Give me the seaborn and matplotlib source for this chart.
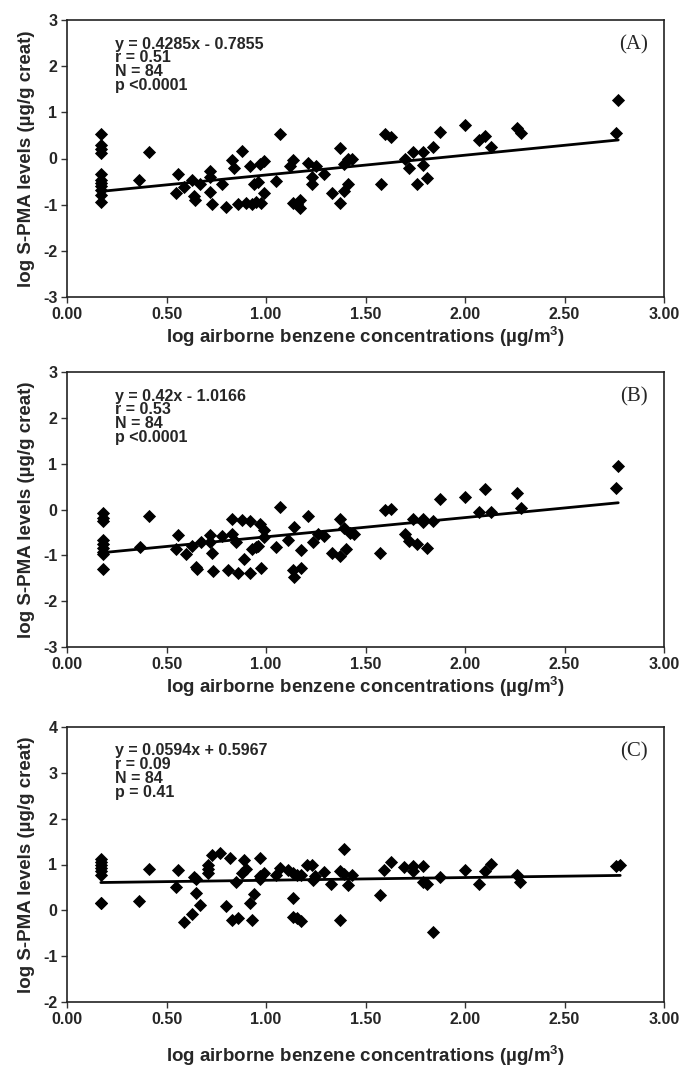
import matplotlib
matplotlib.use("Agg")
import matplotlib.pyplot as plt
import seaborn as sns
import numpy as np
import pandas as pd

# ---------------- data ----------------
x_A = [0.17, 0.17, 0.17, 0.17, 0.17, 0.17, 0.17, 0.17, 0.17, 0.17, 0.17,
       0.41, 0.36, 0.56, 0.59, 0.55, 0.63, 0.64, 0.67, 0.72, 0.72, 0.72, 0.78,
       0.83, 0.84, 0.88, 0.92, 0.97, 0.99, 0.94, 0.96, 0.99, 1.05, 1.07, 1.12,
       1.135, 1.21, 1.23, 1.23, 1.25, 1.29, 1.33, 1.37, 1.39, 1.41, 1.43, 1.41,
       1.39, 1.58, 1.60, 1.63, 1.70, 1.72, 1.74, 1.79, 1.79, 1.76, 1.81, 1.84,
       1.875, 2.00, 2.07, 2.10, 2.13, 2.26, 2.28, 2.77, 2.76,
       0.645, 0.73, 0.80, 0.86, 0.90, 0.93, 0.95, 0.975, 1.135, 1.155, 1.17,
       1.17, 1.37]
y_A = [0.52, 0.30, 0.20, 0.11, -0.33, -0.46, -0.52, -0.60, -0.68, -0.80, -0.95,
       0.13, -0.46, -0.33, -0.61, -0.74, -0.46, -0.81, -0.56, -0.26, -0.39, -0.72,
       -0.55, -0.04, -0.21, 0.16, -0.16, -0.11, -0.05, -0.55, -0.51, -0.74, -0.49,
       0.54, -0.16, -0.04, -0.09, -0.39, -0.56, -0.16, -0.33, -0.74, 0.23, -0.11,
       -0.02, 0.0, -0.56, -0.71, -0.55, 0.53, 0.46, 0.0, -0.21, 0.14, 0.14, -0.14,
       -0.55, -0.42, 0.25, 0.58, 0.73, 0.40, 0.48, 0.25, 0.67, 0.56, 1.27, 0.55,
       -0.90, -0.99, -1.06, -0.99, -0.97, -0.99, -0.95, -0.97, -0.97, -0.99,
       -0.90, -1.08, -0.97]

x_B = [0.18, 0.18, 0.18, 0.18, 0.18, 0.18, 0.18, 0.18, 0.18,
       0.41, 0.56, 0.72, 0.78, 0.83, 0.83, 0.88, 0.92, 0.97, 0.99, 1.07, 1.14,
       1.21, 1.26, 1.37, 1.39, 1.42, 1.60, 1.63, 1.70, 1.74, 1.79, 1.79, 1.84,
       1.875, 2.00, 2.07, 2.10, 2.13, 2.26, 2.28, 2.76, 2.77,
       0.365, 0.55, 0.60, 0.63, 0.65, 0.655, 0.675, 0.72, 0.73, 0.735, 0.81,
       0.85, 0.86, 0.89, 0.92, 0.93, 0.95, 0.96, 0.975, 0.99, 1.05, 1.11, 1.135,
       1.14, 1.175, 1.175, 1.235, 1.29, 1.33, 1.37, 1.40, 1.44, 1.575, 1.72,
       1.76, 1.81]
y_B = [-0.07, -0.18, -0.24, -0.66, -0.75, -0.84, -0.93, -0.98, -1.30,
       -0.14, -0.56, -0.56, -0.58, -0.20, -0.53, -0.23, -0.25, -0.32, -0.44,
       0.06, -0.38, -0.14, -0.53, -0.20, -0.41, -0.51, 0.0, 0.02, -0.53, -0.21,
       -0.21, -0.28, -0.25, 0.24, 0.28, -0.05, 0.44, -0.05, 0.36, 0.04, 0.46,
       0.96,
       -0.82, -0.87, -0.98, -0.80, -1.25, -1.30, -0.70, -0.70, -0.94, -1.35,
       -1.32, -0.70, -1.39, -1.07, -1.39, -0.87, -0.82, -0.80, -1.27, -0.61,
       -0.82, -0.66, -1.32, -1.48, -1.27, -0.89, -0.71, -0.57, -0.94, -1.01,
       -0.87, -0.53, -0.94, -0.68, -0.75, -0.85]

x_C = [0.17, 0.17, 0.17, 0.17, 0.17, 0.17, 0.17, 0.17,
       0.41, 0.56, 0.64, 0.71, 0.71, 0.71, 0.73, 0.77, 0.82, 0.89, 0.90, 0.88,
       0.97, 0.99, 0.97, 1.07, 1.05, 1.11, 1.135, 1.155, 1.175, 1.205, 1.23,
       1.245, 1.29, 1.37, 1.39, 1.39, 1.43, 1.595, 1.63, 1.695, 1.74, 1.74,
       1.79, 1.875, 2.00, 2.10, 2.13, 2.26, 2.76, 2.78,
       0.36, 0.55, 0.65, 0.65, 0.67, 0.63, 0.59, 0.80, 0.83, 0.86, 0.85, 0.92,
       0.94, 0.93, 0.97, 1.135, 1.135, 1.155, 1.175, 1.235, 1.325, 1.37, 1.41,
       1.575, 1.79, 1.81, 1.84, 2.07, 2.275]
y_C = [1.12, 1.06, 1.00, 0.93, 0.86, 0.78, 0.17, 0.15,
       0.91, 0.88, 0.72, 1.00, 0.91, 0.82, 1.20, 1.26, 1.14, 1.09, 0.91, 0.82,
       1.14, 0.81, 0.75, 0.93, 0.77, 0.88, 0.82, 0.77, 0.77, 1.00, 0.98, 0.75,
       0.84, 0.86, 1.34, 0.79, 0.77, 0.88, 1.06, 0.95, 0.97, 0.86, 0.97, 0.72,
       0.88, 0.86, 1.01, 0.77, 0.97, 0.98,
       0.20, 0.52, 0.69, 0.38, 0.12, -0.09, -0.26, 0.10, -0.21, -0.17, 0.62,
       0.15, 0.36, -0.21, 0.68, 0.27, -0.14, -0.17, -0.23, 0.67, 0.57, -0.21,
       0.55, 0.34, 0.61, 0.57, -0.47, 0.57, 0.61]

panel_labels = ["(A)", "(B)", "(C)"]
slopes = [0.4285, 0.42, 0.0594]
intercepts = [-0.7855, -1.0166, 0.5967]
stats_text = [
    "y = 0.4285x - 0.7855\nr = 0.51\nN = 84\np <0.0001",
    "y = 0.42x - 1.0166\nr = 0.53\nN = 84\np <0.0001",
    "y = 0.0594x + 0.5967\nr = 0.09\nN = 84\np = 0.41",
]
y_limits = [(-3, 3), (-3, 3), (-2, 4)]
x_ticks = [0.0, 0.5, 1.0, 1.5, 2.0, 2.5, 3.0]
x_tick_labels = ["0.00", "0.50", "1.00", "1.50", "2.00", "2.50", "3.00"]
x_label = "log airborne benzene concentrations (µg/m$^{\\mathbf{3}}$)"
y_label = "log S-PMA levels (µg/g creat)"

# ---------------- style ----------------
sns.set_theme(style="ticks")
plt.rcParams["font.family"] = ["Liberation Sans", "DejaVu Sans"]
plt.rcParams["font.weight"] = "bold"
plt.rcParams["axes.unicode_minus"] = False
plt.rcParams["mathtext.fontset"] = "custom"
plt.rcParams["mathtext.bf"] = "Liberation Sans:bold"
plt.rcParams["mathtext.rm"] = "Liberation Sans:bold"

fig = plt.figure(figsize=(6.8, 10.69), dpi=100)
W, H = 680, 1069
panels_px = [(20, 297), (372, 647), (727, 1002)]
left_px, right_px = 67, 664
xlabel_pads = [2, 2, 12]

datasets = [(x_A, y_A), (x_B, y_B), (x_C, y_C)]

for i, ((xs, ys), (top, bot)) in enumerate(zip(datasets, panels_px)):
    ax = fig.add_axes([left_px / W, 1 - bot / H, (right_px - left_px) / W, (bot - top) / H])
    df = pd.DataFrame({"x": xs, "y": ys})
    sns.scatterplot(data=df, x="x", y="y", ax=ax, marker="D", s=45,
                    color="black", edgecolor="black", linewidth=0, zorder=3)
    xr = np.array([min(xs), max(xs)])
    ax.plot(xr, slopes[i] * xr + intercepts[i], color="black", lw=2.0, zorder=2)

    ax.set_xlim(0, 3)
    ax.set_ylim(*y_limits[i])
    ax.set_xticks(x_ticks)
    ax.set_xticklabels(x_tick_labels)
    lo, hi = y_limits[i]
    ax.set_yticks(range(lo, hi + 1))
    ax.set_yticklabels([str(v) for v in range(lo, hi + 1)])
    ax.tick_params(axis="both", direction="out", length=4, width=1.0,
                   labelsize=11.5, pad=3, color="#333333")
    for lab in ax.get_xticklabels() + ax.get_yticklabels():
        lab.set_fontweight("bold")
    for sp in ax.spines.values():
        sp.set_visible(True)
        sp.set_linewidth(1.2)
        sp.set_color("#222222")

    ax.set_xlabel(x_label, fontsize=13.5, fontweight="bold", labelpad=xlabel_pads[i])
    ax.set_ylabel(y_label, fontsize=13.5, fontweight="bold", labelpad=6)

    ax.text(0.081, 0.94, stats_text[i], transform=ax.transAxes, ha="left",
            va="top", fontsize=11.5, fontweight="bold", linespacing=0.9)
    ax.text(0.973, 0.945, panel_labels[i], transform=ax.transAxes, ha="right",
            va="top", fontsize=15, fontweight="normal",
            family=["Liberation Serif", "DejaVu Serif"])

fig.savefig("out.png", dpi=100)
